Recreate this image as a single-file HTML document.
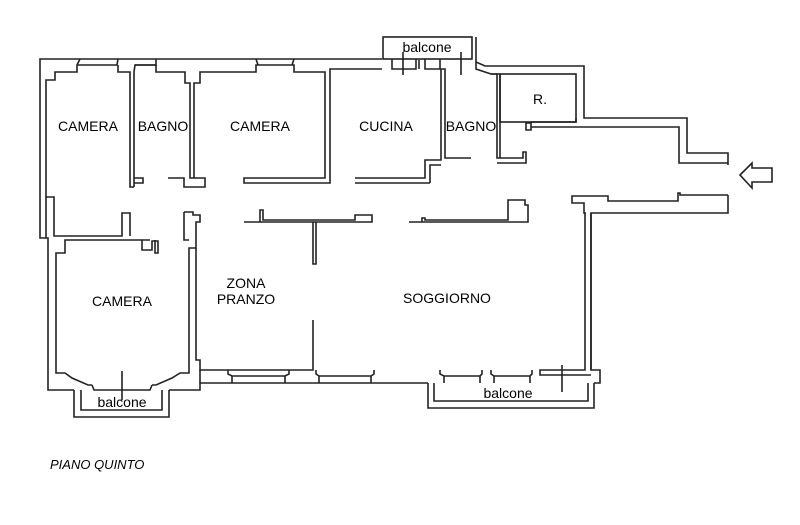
<!DOCTYPE html>
<html><head><meta charset="utf-8"><style>
html,body{margin:0;padding:0;background:#fff;}
svg{display:block;}
text{font-family:"Liberation Sans",Arial,sans-serif;font-size:14px;fill:#000;}
</style></head><body>
<svg width="800" height="525" viewBox="0 0 800 525" xmlns="http://www.w3.org/2000/svg">
<g fill="none" stroke="#222" stroke-width="1.6">
<!-- outer shell -->
<polyline points="382,59 40,59 40,238 48,238 48,390 74,390"/>
<polyline points="169,390 200,390 200,383 428,383"/>
<polyline points="594,383 600,383 600,370 591,370 591,213 728,213 728,195"/>
<polyline points="476,37 476,62 485,66 584,66 584,118 687,118 687,153 728,153 728,165"/>
<!-- top balcone -->
<rect x="383" y="37" width="89" height="22"/>
<line x1="403" y1="52" x2="403" y2="75"/><line x1="461" y1="52" x2="461" y2="75"/>
<polyline points="392,59 392,69 416,69 416,59"/><polyline points="425,59 425,69 440,69 440,59"/>
<!-- top-left camera -->
<polyline points="46,238 46,197 54,197 54,236 122,236 122,213 130,213 130,236"/>
<polyline points="46,197 46,80 55,80 55,72 77,72 77,65 80,59"/>
<polyline points="77,65 117,65 118,59"/><polyline points="118,65 118,72 130,72 130,187 134,187"/>
<polyline points="134,187 134,72 135,65 156,65 156,59"/><line x1="135" y1="65" x2="156" y2="65"/>
<polyline points="156,65 156,72 185,72 185,83 190,83 190,178 205,178 205,187 184,187 184,178 168,178"/>
<polyline points="134,178 143,178 143,183 134,183"/>
<!-- camera 2 -->
<polyline points="194,178 194,83 200,83 200,72 256,72 256,65 294,65 294,72 325,72 325,178 244,178 244,183 325,183 330,183 330,69 335,69 382,69"/>
<line x1="256" y1="59" x2="258" y2="65"/><line x1="294" y1="59" x2="292" y2="65"/>
<!-- cucina -->
<polyline points="355,178 425,178 425,160 441,160 441,69 445,69 445,158 471,158"/>
<line x1="355" y1="183" x2="430" y2="183"/><polyline points="430,183 430,165 441,165"/>
<line x1="419" y1="60" x2="419" y2="69"/>
<!-- bagno2 / R -->
<polyline points="476,62 476,69 491,74 497,74 497,158 523,158 523,152 526,152 526,163 497,163"/>
<polyline points="491,74 500,74 500,158"/>
<rect x="500" y="74" width="76" height="48"/>
<polyline points="531,122 576,122 576,118"/>
<polyline points="531,127 531,123 526,123 526,130 531,130 531,127 679,127 679,163 728,163"/>
<!-- entrance lower -->
<polyline points="728,195 680,195 680,193 678,193 678,201 608,201 608,196 572,196 572,203 584,203 584,213 586,213"/>
<polyline points="591,213 591,370"/>
<polyline points="585,213 585,370 540,370 540,375 591,375"/>
<!-- lower left camera -->
<polyline points="150,240 65,240 65,253 56,253 56,373 65,373 72,378 88,385 92,385"/>
<polyline points="142,240 142,250 152,250 152,241 158,241 158,253 155,253 155,240"/>
<polyline points="184,212 193,212 193,215 200,215 200,222 196,222 196,248 189,248 189,373 180,373 172,378 156,385 152,385"/>
<polyline points="196,248 196,360 200,360 200,370 313,370 313,320"/>
<polyline points="200,370 200,383"/>
<polyline points="184,212 184,240 189,240"/>
<!-- zona/soggiorno top walls -->
<polyline points="244,222 260,222 260,210 263,210 263,220 355,220 355,215 372,215 372,222 244,222"/>
<polyline points="313,222 313,264 316,264 316,222"/>
<polyline points="409,222 422,222 422,218 425,218 425,220 508,220 508,200 525,200 525,205 528,205 528,222 409,222"/>
<!-- bottom windows -->
<polyline points="228,370 228,374 232,376 285,376 289,374 289,370"/>
<line x1="232" y1="376" x2="232" y2="383"/><line x1="285" y1="376" x2="285" y2="383"/>
<polyline points="316,370 316,374 319,376 371,376 374,374 374,370"/>
<line x1="319" y1="376" x2="319" y2="383"/><line x1="371" y1="376" x2="371" y2="383"/>
<polyline points="440,370 440,374 444,376 480,376 482,374 482,370"/>
<polyline points="491,370 491,374 494,376 530,376 532,374 532,370"/>
<line x1="444" y1="376" x2="444" y2="383"/><line x1="480" y1="376" x2="480" y2="383"/>
<line x1="494" y1="376" x2="494" y2="383"/><line x1="530" y1="376" x2="530" y2="383"/>
<line x1="562" y1="365" x2="562" y2="392"/>
<!-- bottom balconi -->
<polyline points="428,383 428,408 594,408 594,383"/>
<polyline points="434,383 434,401 588,401 588,383"/>
<polyline points="74,390 74,417 169,417 169,390"/>
<polyline points="81,390 81,410 162,410 162,390"/>
<line x1="122" y1="371" x2="122" y2="400"/>
<polyline points="92,385 94,390 150,390 152,385"/>
<!-- arrow -->
<polygon points="740,175 752,163 752,168 772,168 772,182 752,182 752,188"/>
</g>
<text x="88" y="131" text-anchor="middle">CAMERA</text>
<text x="163" y="131" text-anchor="middle">BAGNO</text>
<text x="260" y="131" text-anchor="middle">CAMERA</text>
<text x="386" y="131" text-anchor="middle">CUCINA</text>
<text x="471" y="131" text-anchor="middle">BAGNO</text>
<text x="540" y="104" text-anchor="middle">R.</text>
<text x="427" y="52" text-anchor="middle">balcone</text>
<text x="122" y="306" text-anchor="middle">CAMERA</text>
<text x="246" y="288" text-anchor="middle">ZONA</text>
<text x="246" y="304" text-anchor="middle">PRANZO</text>
<text x="447" y="303" text-anchor="middle">SOGGIORNO</text>
<text x="122" y="407" text-anchor="middle">balcone</text>
<text x="508" y="398" text-anchor="middle">balcone</text>
<text x="50" y="469" style="font-style:italic;font-size:13px">PIANO QUINTO</text>
</svg>
</body></html>
